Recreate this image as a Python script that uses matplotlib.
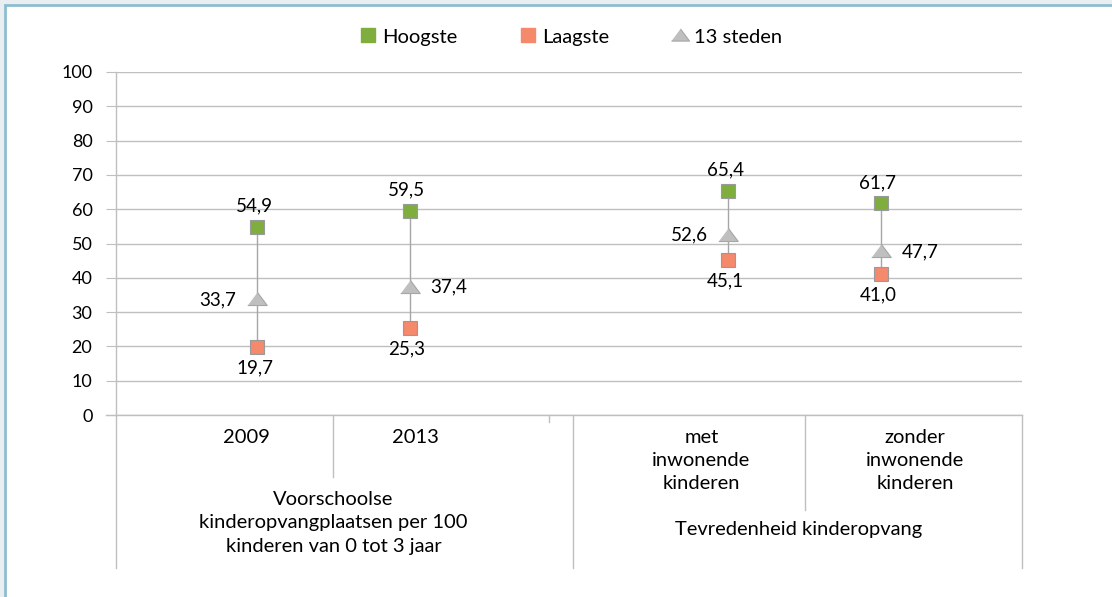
import matplotlib.pyplot as plt
from matplotlib.lines import Line2D
from matplotlib.patches import Rectangle
from matplotlib.transforms import blended_transform_factory

plt.rcParams['font.family'] = ['Lato', 'DejaVu Sans']

# data
categories = ['2009', '2013', 'met\ninwonende\nkinderen', 'zonder\ninwonende\nkinderen']
groups = ['Voorschoolse\nkinderopvangplaatsen per 100\nkinderen van 0 tot 3 jaar', 'Tevredenheid kinderopvang']
hoogste = [54.9, 59.5, 65.4, 61.7]
laagste = [19.7, 25.3, 45.1, 41.0]
steden = [33.7, 37.4, 52.6, 47.7]
steden_side = ['left', 'right', 'left', 'right']

# layout (x in axis units, 5 units wide)
x_pos = [0.78, 1.62, 3.38, 4.22]
label_pos = [0.72, 1.65, 3.23, 4.41]
group_pos = [1.20, 3.77]

green = '#80ae3e'
orange = '#f4896b'
grey = '#bfbfbf'
line_grey = '#a6a6a6'
tri = [(-1, -0.62), (1, -0.62), (0, 0.72)]

fig = plt.figure(figsize=(11.12, 5.97), dpi=100, facecolor='#e9eef2')
fig.patches.append(Rectangle((4.5 / 1112, -0.1), 1.2, 1 - 4.5 / 597 + 0.1,
                             transform=fig.transFigure, facecolor='white',
                             edgecolor='#8dbdcf', linewidth=2, zorder=-10))

ax = fig.add_axes([116 / 1112, 1 - 415 / 597, 906 / 1112, 343 / 597])
ax.set_facecolor('none')
ax.set_xlim(0, 5)
ax.set_ylim(0, 100)
ax.set_yticks(range(0, 101, 10))
ax.yaxis.grid(True, color='#bfbfbf', linewidth=1)
ax.set_axisbelow(True)
ax.tick_params(axis='y', length=7, color='#bfbfbf', labelsize=13, pad=10)
ax.set_xticks([])
for s in ['top', 'right']:
    ax.spines[s].set_visible(False)
for s in ['left', 'bottom']:
    ax.spines[s].set_color('#bfbfbf')
    ax.spines[s].set_linewidth(1)

# hi-lo lines
ax.vlines(x_pos, laagste, hoogste, color=line_grey, linewidth=1, zorder=2)
ax.plot(x_pos, hoogste, 's', ms=9.5, mfc=green, mec='#9a9a9a', mew=0.8, zorder=3)
ax.plot(x_pos, laagste, 's', ms=9.5, mfc=orange, mec='#9a9a9a', mew=0.8, zorder=3)
ax.plot(x_pos, steden, marker=tri, ls='none', ms=14, mfc=grey, mec=line_grey, mew=0.8, zorder=3)

for x, h, l, s, side in zip(x_pos, hoogste, laagste, steden, steden_side):
    ax.annotate(f'{h:.1f}'.replace('.', ','), (x, h), xytext=(-2, 15), textcoords='offset points',
                ha='center', va='center', fontsize=13.5)
    ax.annotate(f'{l:.1f}'.replace('.', ','), (x, l), xytext=(-2, -15), textcoords='offset points',
                ha='center', va='center', fontsize=13.5)
    if side == 'left':
        ax.annotate(f'{s:.1f}'.replace('.', ','), (x, s), xytext=(-15, 0), textcoords='offset points',
                    ha='right', va='center', fontsize=13.5)
    else:
        ax.annotate(f'{s:.1f}'.replace('.', ','), (x, s), xytext=(15, 0), textcoords='offset points',
                    ha='left', va='center', fontsize=13.5)

# category axis lines below the plot
tr = blended_transform_factory(ax.transData, ax.transAxes)
for x, y0 in [(0, -0.446), (1.20, -0.181), (2.39, -0.02), (2.52, -0.446), (3.80, -0.277), (5.0, -0.446)]:
    ax.plot([x, x], [0, y0], color='#bfbfbf', linewidth=1, transform=tr, clip_on=False)
ax.plot([-0.055, 0], [0, 0], color='#bfbfbf', linewidth=1, transform=tr, clip_on=False)

for x, lab in zip(label_pos, categories):
    ax.text(x, -0.04, lab, transform=tr, ha='center', va='top', fontsize=14.5, linespacing=1.45)
ax.text(group_pos[0], -0.222, groups[0], transform=tr, ha='center', va='top', fontsize=14.5, linespacing=1.45)
ax.text(group_pos[1], -0.31, groups[1], transform=tr, ha='center', va='top', fontsize=14.5)

handles = [
    Line2D([], [], ls='none', marker='s', ms=9.5, mfc=green, mec=green),
    Line2D([], [], ls='none', marker='s', ms=9.5, mfc=orange, mec=orange),
    Line2D([], [], ls='none', marker=tri, ms=13, mfc=grey, mec=line_grey, mew=0.8),
]
fig.legend(handles, ['Hoogste', 'Laagste', '13 steden'], loc='center', bbox_to_anchor=(570 / 1112, 1 - 37 / 597),
           ncol=3, frameon=False, fontsize=14.5, handletextpad=0.2, columnspacing=3.0, handlelength=1.0)

fig.savefig('out.png', dpi=100, facecolor=fig.get_facecolor())
